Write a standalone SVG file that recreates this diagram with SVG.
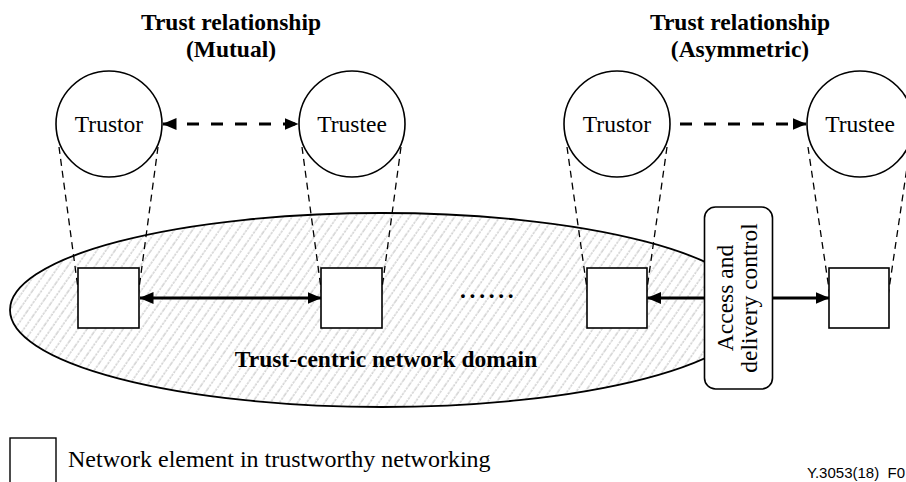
<svg xmlns="http://www.w3.org/2000/svg" width="906" height="482" viewBox="0 0 906 482">
  <style>
    .title { font-family: "Liberation Serif", "Times New Roman", serif; font-weight: bold; font-size: 23.5px; fill: #000; text-anchor: middle; }
    .lbl { font-family: "Liberation Serif", "Times New Roman", serif; font-size: 23.5px; fill: #000; text-anchor: middle; }
    .circle { fill: #fff; stroke: #000; stroke-width: 1.6; }
    .ne { fill: #fff; stroke: #000; stroke-width: 1.6; }
    .tangent { stroke: #000; stroke-width: 1.3; stroke-dasharray: 7 5; fill: none; }
    .trust { stroke: #000; stroke-width: 3.2; stroke-dasharray: 12 12; fill: none; }
    .link { stroke: #000; stroke-width: 2.8; fill: none; }
  </style>
  <defs>
    <pattern id="hatch" width="7.4" height="20" patternUnits="userSpaceOnUse" patternTransform="rotate(35)">
      <line x1="1" y1="0" x2="1" y2="20" stroke="#a0a0a0" stroke-width="0.75" stroke-dasharray="2.5 1"/>
    </pattern>
    <marker id="ah" viewBox="0 0 14 12" refX="13.5" refY="6" markerWidth="14" markerHeight="12" markerUnits="userSpaceOnUse" orient="auto-start-reverse">
      <path d="M0,0 L14,6 L0,12 Z" fill="#000"/>
    </marker>
  </defs>

  <rect width="906" height="482" fill="#fff"/>

  <!-- Domain -->
  <g id="domain">
    <ellipse cx="382" cy="310" rx="372" ry="97" fill="url(#hatch)" stroke="#000" stroke-width="1.8"/>
    <text class="title" x="386" y="367">Trust-centric network domain</text>
    <text x="460" y="298" font-family="Liberation Serif, Times New Roman, serif" font-weight="bold" font-size="23.5" letter-spacing="3.7">......</text>
  </g>

  <!-- Titles -->
  <g id="title-mutual">
    <text class="title" x="231" y="30">Trust relationship</text>
    <text class="title" x="231" y="57">(Mutual)</text>
  </g>
  <g id="title-asym">
    <text class="title" x="740" y="30">Trust relationship</text>
    <text class="title" x="740" y="57">(Asymmetric)</text>
  </g>

  <!-- Tangent (zoom) lines -->
  <g id="tangents">
    <line class="tangent" x1="59" y1="147" x2="79" y2="296"/>
    <line class="tangent" x1="158" y1="147" x2="138" y2="296"/>
    <line class="tangent" x1="302" y1="147" x2="322" y2="296"/>
    <line class="tangent" x1="401" y1="147" x2="381" y2="296"/>
    <line class="tangent" x1="567" y1="147" x2="588" y2="296"/>
    <line class="tangent" x1="667" y1="147" x2="646" y2="296"/>
    <line class="tangent" x1="808" y1="147" x2="830" y2="296"/>
    <line class="tangent" x1="910" y1="147" x2="888" y2="296"/>
  </g>

  <!-- Circles -->
  <g id="trustor-mutual">
    <circle class="circle" cx="109" cy="124" r="53"/>
    <text class="lbl" x="109" y="132">Trustor</text>
  </g>
  <g id="trustee-mutual">
    <circle class="circle" cx="352" cy="124" r="53"/>
    <text class="lbl" x="352" y="132">Trustee</text>
  </g>
  <g id="trustor-asym">
    <circle class="circle" cx="617" cy="124" r="53"/>
    <text class="lbl" x="617" y="132">Trustor</text>
  </g>
  <g id="trustee-asym">
    <circle class="circle" cx="860" cy="124" r="53"/>
    <text class="lbl" x="860" y="132">Trustee</text>
  </g>

  <!-- Network elements -->
  <g id="ne1"><rect class="ne" x="78" y="268" width="61" height="60"/></g>
  <g id="ne2"><rect class="ne" x="321" y="268" width="61" height="60"/></g>
  <g id="ne3"><rect class="ne" x="587" y="268" width="60" height="60"/></g>
  <g id="ne4"><rect class="ne" x="829" y="268" width="60" height="60"/></g>

  <!-- Access and delivery control -->
  <g id="access-control">
    <rect x="704.5" y="207" width="68" height="182" rx="11" ry="11" fill="#fff" stroke="#000" stroke-width="1.6"/>
    <text class="lbl" transform="translate(733,298) rotate(-90)" x="0" y="0">Access and</text>
    <text class="lbl" transform="translate(733,298) rotate(-90)" x="0" y="23.5">delivery control</text>
  </g>

  <!-- Connectors -->
  <g id="connectors">
    <line class="trust" x1="163" y1="124" x2="298" y2="124" marker-start="url(#ah)" marker-end="url(#ah)"/>
    <line class="trust" x1="680" y1="124" x2="806" y2="124" marker-end="url(#ah)"/>
    <line class="link" x1="140" y1="298" x2="321" y2="298" marker-start="url(#ah)" marker-end="url(#ah)"/>
    <line class="link" x1="704.5" y1="298" x2="647.5" y2="298" marker-end="url(#ah)"/>
    <line class="link" x1="772.5" y1="298" x2="829" y2="298" marker-end="url(#ah)"/>
  </g>

  <!-- Legend -->
  <g id="legend">
    <rect x="10" y="438" width="46" height="60" fill="#fff" stroke="#000" stroke-width="1.4"/>
    <text x="68" y="467" font-family="Liberation Serif, Times New Roman, serif" font-size="24" fill="#000">Network element in trustworthy networking</text>
  </g>
  <text x="905" y="478" text-anchor="end" font-family="Liberation Sans, Arial, sans-serif" font-size="15" fill="#000" xml:space="preserve">Y.3053(18)  F0</text>
</svg>
